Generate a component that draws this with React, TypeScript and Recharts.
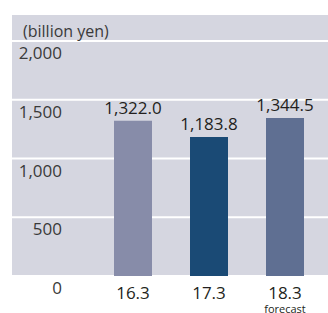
import { BarChart, Bar, XAxis, YAxis, CartesianGrid, LabelList, Cell, ReferenceLine } from 'recharts';

const periods = ['16.3', '17.3', '18.3'];
const revenues = [1322.0, 1183.8, 1344.5];
const notes = ['', '', 'forecast'];
const barColors = ['#878ca9', '#1a4a75', '#5f6f92'];
const yTicks = [0, 500, 1000, 1500, 2000];

const data = periods.map((p, i) => ({ period: p, value: revenues[i], note: notes[i] }));

const FONT = '"Open Sans", sans-serif';

function YTick(props: any) {
  const { y, payload } = props;
  return (
    <text x={62} y={Number(y) + 18} textAnchor="end" fontSize={17} fontFamily={FONT} fill="#3a3a3a">
      {Number(payload.value).toLocaleString('en-US')}
    </text>
  );
}

function XTick(props: any) {
  const { x, y, payload, index } = props;
  const note = notes[index];
  return (
    <g>
      <text x={x} y={Number(y) + 23} textAnchor="middle" fontSize={17} fontFamily={FONT} fill="#231f20">
        {payload.value}
      </text>
      {note && (
        <text x={x} y={Number(y) + 37} textAnchor="middle" fontSize={11} fontFamily={FONT} fill="#231f20">
          {note}
        </text>
      )}
    </g>
  );
}

export default function App() {
  return (
    <div style={{ position: 'absolute', left: 0, top: 0, width: 328, height: 313, background: '#fff', overflow: 'hidden' }}>
      <BarChart
        width={328}
        height={313}
        data={data}
        margin={{ top: 14, right: 0, bottom: 0, left: 12 }}
        barCategoryGap="25%"
      >
        <CartesianGrid vertical={false} stroke="#ffffff" strokeWidth={2} fill="#d5d6e0" />
        <ReferenceLine y={2000} stroke="#ffffff" strokeWidth={2} />
        <XAxis
          dataKey="period"
          axisLine={false}
          tickLine={false}
          tickSize={0}
          tickMargin={0}
          height={37}
          padding={{ left: 83, right: 5 }}
          tick={XTick}
          interval={0}
        />
        <YAxis
          mirror
          width={60}
          type="number"
          domain={[0, 2230]}
          allowDataOverflow
          ticks={yTicks}
          axisLine={false}
          tickLine={false}
          tick={YTick}
          interval={0}
        />
        <Bar dataKey="value" isAnimationActive={false}>
          {data.map((d, i) => (
            <Cell key={d.period} fill={barColors[i]} />
          ))}
          <LabelList
            dataKey="value"
            position="top"
            offset={7}
            fontSize={17}
            fontFamily={FONT}
            fill="#231f20"
            formatter={(v: any) => Number(v).toLocaleString('en-US', { minimumFractionDigits: 1, maximumFractionDigits: 1 })}
          />
        </Bar>
      </BarChart>
      <div
        style={{
          position: 'absolute',
          left: 23,
          top: 23,
          fontSize: 16,
          lineHeight: '16px',
          fontFamily: FONT,
          color: '#3a3a3a',
          whiteSpace: 'nowrap',
        }}
      >
        (billion yen)
      </div>
    </div>
  );
}
